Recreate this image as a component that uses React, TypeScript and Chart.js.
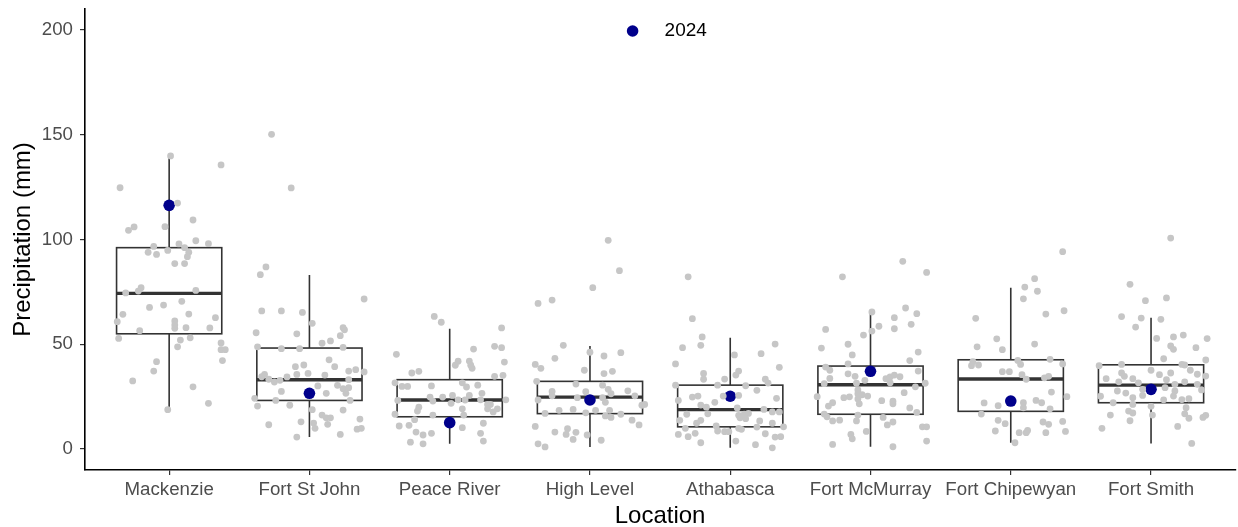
import React, { useEffect, useRef } from "react";
import { Chart, registerables } from "chart.js";

Chart.register(...registerables);

// ---------- data ----------
const locations = [
  "Mackenzie",
  "Fort St John",
  "Peace River",
  "High Level",
  "Athabasca",
  "Fort McMurray",
  "Fort Chipewyan",
  "Fort Smith",
];

const yTicks = [0, 50, 100, 150, 200];

// box statistics (mm)
const whiskerLow = [18.9, 5.7, 2.5, 1.0, 0.6, 1.1, 3.0, 2.7];
const q1 = [55.0, 23.2, 15.4, 16.9, 10.6, 16.6, 18.0, 22.1];
const median = [74.3, 33.1, 23.4, 24.8, 18.8, 30.7, 33.4, 30.5];
const q3 = [96.1, 48.2, 33.1, 32.3, 30.5, 39.6, 42.6, 40.2];
const whiskerHigh = [139.9, 83.1, 57.4, 49.2, 53.1, 65.4, 77.0, 62.7];

// 2024 values (mm)
const values2024 = [116.3, 26.6, 12.6, 23.4, 25.2, 37.1, 22.9, 28.5];

// historical observations per location (mm) and their horizontal jitter (category units)
const mackenzieValues = [139.9, 135.6, 124.7, 117.4, 109.3, 106.0, 104.4, 106.1, 99.4, 98.0, 97.9, 96.7, 96.1, 93.9, 92.9, 94.8, 93.9, 91.8, 88.5, 88.5, 77.0, 75.4, 74.5, 75.7, 70.5, 68.7, 67.6, 64.3, 64.4, 62.7, 60.8, 61.1, 59.2, 57.6, 57.9, 57.8, 56.5, 52.8, 53.1, 52.0, 48.8, 50.6, 47.4, 47.4, 42.2, 41.7, 37.2, 32.5, 29.7, 21.8, 18.8];
const mackenzieJitter = [0.01, 0.37, -0.35, 0.06, 0.17, -0.25, -0.29, -0.03, 0.19, 0.28, 0.07, -0.11, 0.11, -0.15, -0.09, -0.01, 0.14, 0.13, 0.04, 0.11, -0.2, -0.22, -0.31, 0.19, 0.09, -0.04, -0.14, -0.33, 0.14, 0.33, -0.37, 0.04, 0.04, 0.04, 0.12, 0.29, -0.21, -0.36, 0.15, 0.08, 0.06, 0.37, 0.37, 0.4, 0.38, -0.09, -0.11, -0.26, 0.17, 0.28, -0.01];

const fortStJohnValues = [150.2, 124.6, 86.9, 83.2, 71.6, 65.9, 65.9, 65.2, 60.0, 55.5, 55.0, 57.9, 56.9, 54.1, 51.6, 50.5, 48.8, 47.9, 47.9, 48.5, 42.6, 40.1, 39.3, 39.3, 37.2, 37.9, 36.8, 36.1, 35.3, 35.6, 34.5, 33.3, 34.4, 32.0, 32.8, 35.6, 33.1, 30.4, 28.8, 29.3, 30.1, 26.6, 27.5, 26.6, 24.2, 23.2, 23.2, 20.5, 20.9, 18.8, 18.6, 16.2, 14.9, 14.9, 14.3, 13.0, 11.6, 12.4, 11.8, 9.9, 9.5, 9.9, 7.0, 5.7];
const fortStJohnJitter = [-0.27, -0.13, -0.31, -0.35, 0.39, -0.34, -0.2, -0.05, 0.02, -0.38, -0.09, 0.24, 0.25, 0.22, 0.15, 0.09, -0.37, -0.2, -0.07, 0.24, 0.14, -0.04, -0.1, 0.18, 0.28, 0.33, 0.39, -0.01, 0.11, -0.32, -0.34, -0.29, -0.16, -0.25, -0.21, -0.09, 0.28, 0.2, 0.24, 0.28, 0.06, 0.26, -0.2, 0.12, -0.39, -0.24, 0.29, -0.37, -0.14, 0.02, 0.24, 0.09, 0.12, 0.15, 0.36, -0.06, -0.29, 0.03, 0.13, 0.04, 0.34, 0.37, 0.22, -0.09];

const peaceRiverValues = [63.3, 60.5, 57.8, 45.2, 47.7, 49.0, 48.4, 41.9, 40.0, 42.0, 40.0, 38.5, 41.5, 36.3, 37.1, 34.7, 35.2, 31.6, 29.9, 29.9, 30.1, 31.6, 29.6, 30.5, 26.6, 25.6, 24.8, 24.8, 25.6, 23.2, 22.9, 23.5, 23.4, 23.5, 23.5, 21.8, 21.3, 21.3, 20.0, 18.1, 19.2, 19.2, 19.2, 17.7, 16.6, 16.2, 16.2, 14.0, 11.0, 11.3, 10.2, 12.3, 8.1, 6.7, 7.5, 7.5, 3.3, 2.5, 3.8];
const peaceRiverJitter = [-0.11, -0.06, 0.37, -0.38, 0.17, 0.32, 0.37, 0.06, 0.04, 0.14, 0.15, 0.16, 0.39, -0.27, -0.22, 0.32, 0.38, -0.39, -0.34, -0.3, -0.13, 0.09, 0.12, 0.2, 0.23, 0.02, -0.14, -0.05, 0.14, -0.37, -0.12, 0.06, 0.11, 0.22, 0.4, 0.01, 0.27, 0.29, -0.22, -0.23, 0.09, 0.27, 0.34, 0.31, -0.39, -0.12, 0.1, -0.25, -0.36, -0.29, 0.09, 0.24, -0.24, -0.19, -0.13, 0.22, -0.28, -0.19, 0.24];

const highLevelValues = [99.6, 85.1, 77.0, 69.5, 71.1, 49.5, 46.2, 44.4, 46.0, 43.3, 40.4, 38.5, 37.6, 36.0, 37.1, 32.3, 31.0, 30.5, 28.5, 27.8, 27.5, 26.4, 27.4, 25.4, 23.4, 25.4, 24.5, 24.5, 22.3, 20.9, 21.3, 18.5, 18.9, 17.3, 18.5, 18.5, 17.0, 15.8, 15.1, 16.6, 13.8, 11.5, 10.8, 9.7, 8.0, 8.1, 7.0, 6.7, 4.6, 4.2, 2.5, 1.0];
const highLevelJitter = [0.13, 0.21, 0.02, -0.37, -0.27, -0.19, 0.0, 0.1, 0.22, -0.25, -0.39, -0.35, -0.04, 0.1, 0.16, -0.38, -0.1, 0.09, 0.13, 0.27, -0.27, 0.15, -0.03, 0.32, -0.37, -0.27, -0.09, 0.09, 0.11, 0.37, 0.39, -0.22, -0.12, -0.03, 0.04, 0.14, -0.32, 0.11, 0.15, 0.22, 0.3, 0.35, -0.39, -0.16, -0.1, -0.25, -0.17, -0.02, -0.12, 0.08, -0.37, -0.32];

const athabascaValues = [82.2, 62.2, 53.5, 49.5, 48.4, 50.1, 45.5, 44.9, 40.6, 39.0, 36.1, 37.2, 35.3, 33.3, 33.4, 33.3, 31.5, 30.5, 30.5, 30.2, 28.0, 24.8, 25.3, 25.3, 25.6, 24.2, 23.2, 22.3, 21.0, 20.0, 19.6, 18.9, 17.7, 17.7, 16.6, 16.8, 16.1, 16.6, 17.0, 13.7, 13.7, 12.3, 14.9, 14.5, 13.4, 12.3, 10.6, 11.0, 10.5, 9.9, 8.6, 8.3, 8.3, 9.9, 9.4, 7.0, 5.9, 7.5, 7.3, 5.7, 5.9, 3.0, 3.8, 2.1, 0.6];
const athabascaJitter = [-0.3, -0.27, -0.2, -0.21, -0.34, 0.32, 0.22, 0.03, -0.39, 0.35, -0.19, 0.06, 0.04, -0.19, -0.04, 0.25, 0.27, -0.39, -0.09, 0.11, 0.19, -0.27, -0.23, -0.05, 0.06, 0.33, -0.37, -0.11, -0.21, -0.17, 0.05, 0.24, 0.3, 0.35, -0.31, -0.16, 0.06, 0.1, 0.13, -0.36, -0.21, -0.24, 0.07, 0.11, 0.21, 0.3, 0.38, -0.1, 0.19, -0.32, -0.09, -0.04, -0.01, 0.06, 0.08, -0.37, -0.3, -0.25, 0.25, 0.32, 0.36, -0.21, 0.04, 0.18, 0.3];

const fortMcMurrayValues = [89.6, 84.3, 82.2, 65.4, 67.3, 64.6, 62.7, 58.6, 57.4, 59.5, 57.1, 56.3, 54.4, 48.2, 50.0, 44.9, 46.3, 42.2, 40.6, 39.1, 37.6, 35.9, 37.2, 34.7, 33.7, 32.8, 33.6, 34.4, 35.3, 34.5, 31.6, 31.2, 31.4, 31.4, 29.7, 28.2, 26.4, 25.9, 25.3, 26.9, 25.0, 24.5, 24.9, 23.9, 23.1, 22.8, 21.6, 21.6, 22.1, 20.5, 19.6, 17.5, 16.7, 16.2, 15.1, 15.4, 13.4, 13.8, 13.4, 12.9, 11.5, 10.6, 10.6, 8.4, 7.0, 4.9, 3.8, 2.2, 1.1];
const fortMcMurrayJitter = [0.23, 0.4, -0.2, 0.01, 0.25, 0.33, 0.17, 0.06, 0.17, 0.29, -0.32, 0.01, -0.05, -0.35, -0.16, -0.13, 0.34, 0.28, -0.16, -0.32, -0.29, -0.16, 0.34, -0.11, -0.29, -0.04, 0.11, 0.14, 0.17, 0.21, 0.14, -0.33, -0.1, 0.39, 0.32, -0.09, -0.09, -0.06, -0.02, 0.24, -0.38, -0.19, -0.15, -0.09, 0.08, 0.16, 0.16, -0.08, -0.27, -0.3, 0.28, 0.33, -0.33, -0.09, 0.09, -0.31, -0.27, -0.22, -0.1, 0.16, 0.12, 0.37, 0.4, -0.03, -0.14, -0.13, 0.4, -0.27, 0.16];

const fortChipewyanValues = [94.2, 81.3, 77.3, 75.3, 71.7, 62.4, 64.4, 66.0, 52.6, 48.8, 47.4, 50.1, 41.7, 39.8, 40.1, 42.3, 40.4, 42.8, 40.6, 36.9, 36.9, 35.5, 33.3, 34.0, 34.7, 27.2, 25.0, 23.2, 22.1, 22.0, 20.7, 22.1, 19.7, 19.2, 16.7, 13.7, 12.1, 12.9, 11.8, 13.2, 8.6, 7.8, 7.8, 8.9, 7.8, 8.4, 3.0];
const fortChipewyanJitter = [0.37, 0.17, 0.1, 0.19, 0.09, -0.25, 0.25, 0.38, -0.1, -0.24, -0.06, 0.17, -0.27, -0.28, -0.23, 0.05, 0.07, 0.28, 0.37, -0.06, -0.01, 0.08, 0.11, 0.24, 0.27, 0.29, 0.4, 0.18, 0.22, -0.19, -0.09, 0.09, 0.09, 0.28, -0.21, -0.09, -0.04, 0.23, 0.27, 0.37, -0.11, 0.06, 0.11, 0.12, 0.25, 0.39, 0.03];

const fortSmithValues = [100.7, 78.6, 70.8, 72.1, 63.2, 62.5, 61.9, 58.2, 52.8, 53.5, 54.4, 52.7, 49.2, 47.6, 48.4, 43.1, 42.5, 39.8, 40.4, 40.4, 40.1, 37.6, 37.6, 36.3, 35.5, 35.7, 36.3, 34.7, 33.6, 33.6, 34.8, 33.1, 32.1, 32.1, 31.6, 30.9, 30.9, 29.3, 28.5, 28.2, 27.7, 26.7, 27.7, 25.2, 25.6, 24.5, 25.3, 23.5, 23.6, 24.0, 22.1, 21.3, 20.4, 19.7, 18.1, 17.2, 16.2, 16.2, 16.8, 14.7, 15.1, 16.1, 13.5, 10.8, 9.9, 2.7];
const fortSmithJitter = [0.14, -0.15, -0.04, 0.11, -0.21, -0.07, 0.07, -0.11, 0.04, 0.16, 0.23, 0.4, 0.14, 0.16, 0.32, 0.09, 0.39, -0.37, -0.21, 0.22, 0.24, 0.28, 0.0, 0.14, 0.06, 0.33, -0.21, -0.19, -0.32, -0.13, 0.39, 0.11, -0.23, 0.24, -0.09, 0.17, 0.33, 0.1, -0.06, 0.36, -0.24, -0.18, 0.17, -0.36, -0.06, -0.13, 0.16, 0.09, 0.22, 0.27, -0.27, -0.13, 0.0, 0.25, -0.16, -0.13, 0.01, -0.29, 0.24, 0.27, 0.37, 0.39, -0.15, 0.19, -0.35, 0.29];

const pointValues = [mackenzieValues, fortStJohnValues, peaceRiverValues, highLevelValues, athabascaValues, fortMcMurrayValues, fortChipewyanValues, fortSmithValues];
const pointJitter = [mackenzieJitter, fortStJohnJitter, peaceRiverJitter, highLevelJitter, athabascaJitter, fortMcMurrayJitter, fortChipewyanJitter, fortSmithJitter];

// ---------- styling ----------
const FONT = "'Liberation Sans', Arial, Helvetica, sans-serif";
const BOX_WIDTH = 0.75;
const BOX_COLOR = "#333333";
const POINT_COLOR = "#c6c6c6";
const HIGHLIGHT_COLOR = "#00008B";

const boxPlugin = {
  id: "boxplots",
  beforeDatasetsDraw(chart: any) {
    const { ctx, scales } = chart;
    const x = scales.x;
    const y = scales.y;
    ctx.save();
    locations.forEach((_, i) => {
      const cx = x.getPixelForValue(i + 1);
      const left = x.getPixelForValue(i + 1 - BOX_WIDTH / 2);
      const right = x.getPixelForValue(i + 1 + BOX_WIDTH / 2);
      const pLo = y.getPixelForValue(whiskerLow[i]);
      const pQ1 = y.getPixelForValue(q1[i]);
      const pMed = y.getPixelForValue(median[i]);
      const pQ3 = y.getPixelForValue(q3[i]);
      const pHi = y.getPixelForValue(whiskerHigh[i]);
      ctx.strokeStyle = BOX_COLOR;
      ctx.lineWidth = 1.6;
      ctx.lineCap = "butt";
      ctx.beginPath();
      ctx.moveTo(cx, pHi);
      ctx.lineTo(cx, pQ3);
      ctx.moveTo(cx, pQ1);
      ctx.lineTo(cx, pLo);
      ctx.stroke();
      ctx.fillStyle = "#ffffff";
      ctx.fillRect(left, pQ3, right - left, pQ1 - pQ3);
      ctx.strokeRect(left, pQ3, right - left, pQ1 - pQ3);
      ctx.lineWidth = 3.4;
      ctx.beginPath();
      ctx.moveTo(left, pMed);
      ctx.lineTo(right, pMed);
      ctx.stroke();
    });
    ctx.restore();
  },
  afterDraw(chart: any) {
    const { ctx, chartArea } = chart;
    const cx = (chartArea.left + chartArea.right) / 2;
    const cy = chartArea.top + 22;
    ctx.save();
    ctx.fillStyle = HIGHLIGHT_COLOR;
    ctx.beginPath();
    ctx.arc(cx - 27.5, cy, 5.8, 0, Math.PI * 2);
    ctx.fill();
    ctx.fillStyle = "#000000";
    ctx.font = `19px ${FONT}`;
    ctx.textBaseline = "middle";
    ctx.textAlign = "left";
    ctx.fillText("2024", cx + 4.5, cy);
    ctx.restore();
  },
};

export default function App() {
  const canvasRef = useRef<HTMLCanvasElement | null>(null);

  useEffect(() => {
    if (!canvasRef.current) return;
    const jitterData: { x: number; y: number }[] = [];
    pointValues.forEach((vals, i) => {
      vals.forEach((v, j) => {
        jitterData.push({ x: i + 1 + pointJitter[i][j], y: v });
      });
    });
    const data2024 = values2024.map((v, i) => ({ x: i + 1, y: v }));

    const chart = new Chart(canvasRef.current, {
      type: "scatter",
      data: {
        datasets: [
          {
            label: "historical",
            data: jitterData,
            pointRadius: 3.4,
            pointBackgroundColor: POINT_COLOR,
            pointBorderWidth: 0,
            pointHoverRadius: 3.4,
          },
          {
            label: "2024",
            data: data2024,
            pointRadius: 5.8,
            pointBackgroundColor: HIGHLIGHT_COLOR,
            pointBorderWidth: 0,
            pointHoverRadius: 5.8,
          },
        ],
      },
      options: {
        animation: false,
        responsive: false,
        events: [],
        layout: { padding: { top: 9, right: 2, left: 0, bottom: 0 } },
        plugins: {
          legend: { display: false },
          tooltip: { enabled: false },
        },
        scales: {
          x: {
            type: "linear",
            min: 0.4,
            max: 8.6,
            afterBuildTicks: (scale: any) => {
              scale.ticks = locations.map((_, i) => ({ value: i + 1 }));
            },
            afterFit: (scale: any) => {
              scale.height = 57;
              scale.paddingLeft = 0;
              scale.paddingRight = 0;
            },
            ticks: {
              autoSkip: false,
              maxRotation: 0,
              color: "#4d4d4d",
              font: { family: FONT, size: 18.7 },
              padding: 4,
              callback: (v: any) => locations[Math.round(Number(v)) - 1] ?? "",
            },
            grid: { drawOnChartArea: false, drawTicks: true, tickLength: 5, color: "#333333", lineWidth: 1.2 },
            border: { display: true, color: "#000000", width: 1.6 },
            title: {
              display: true,
              text: "Location",
              color: "#000000",
              font: { family: FONT, size: 24, lineHeight: 0.85 },
              padding: { top: 0, bottom: 0 },
            },
          },
          y: {
            type: "linear",
            min: -10,
            max: 210,
            afterBuildTicks: (scale: any) => {
              scale.ticks = yTicks.map((v) => ({ value: v }));
            },
            afterFit: (scale: any) => {
              scale.width = 85;
              scale.paddingTop = 0;
              scale.paddingBottom = 0;
            },
            ticks: {
              color: "#4d4d4d",
              font: { family: FONT, size: 18.7 },
              padding: 7,
            },
            grid: { drawOnChartArea: false, drawTicks: true, tickLength: 5, color: "#333333", lineWidth: 1.2 },
            border: { display: true, color: "#000000", width: 1.6 },
            title: {
              display: true,
              text: "Precipitation (mm)",
              color: "#000000",
              font: { family: FONT, size: 24, lineHeight: 1 },
              padding: { top: 11, bottom: 0 },
            },
          },
        },
      },
      plugins: [boxPlugin],
    } as any);

    return () => chart.destroy();
  }, []);

  return (
    <div style={{ position: "fixed", left: 0, top: 0, width: 1238, height: 527, overflow: "hidden", background: "#ffffff" }}>
      <canvas ref={canvasRef} width={1241} height={527} style={{ display: "block" }} />
    </div>
  );
}
